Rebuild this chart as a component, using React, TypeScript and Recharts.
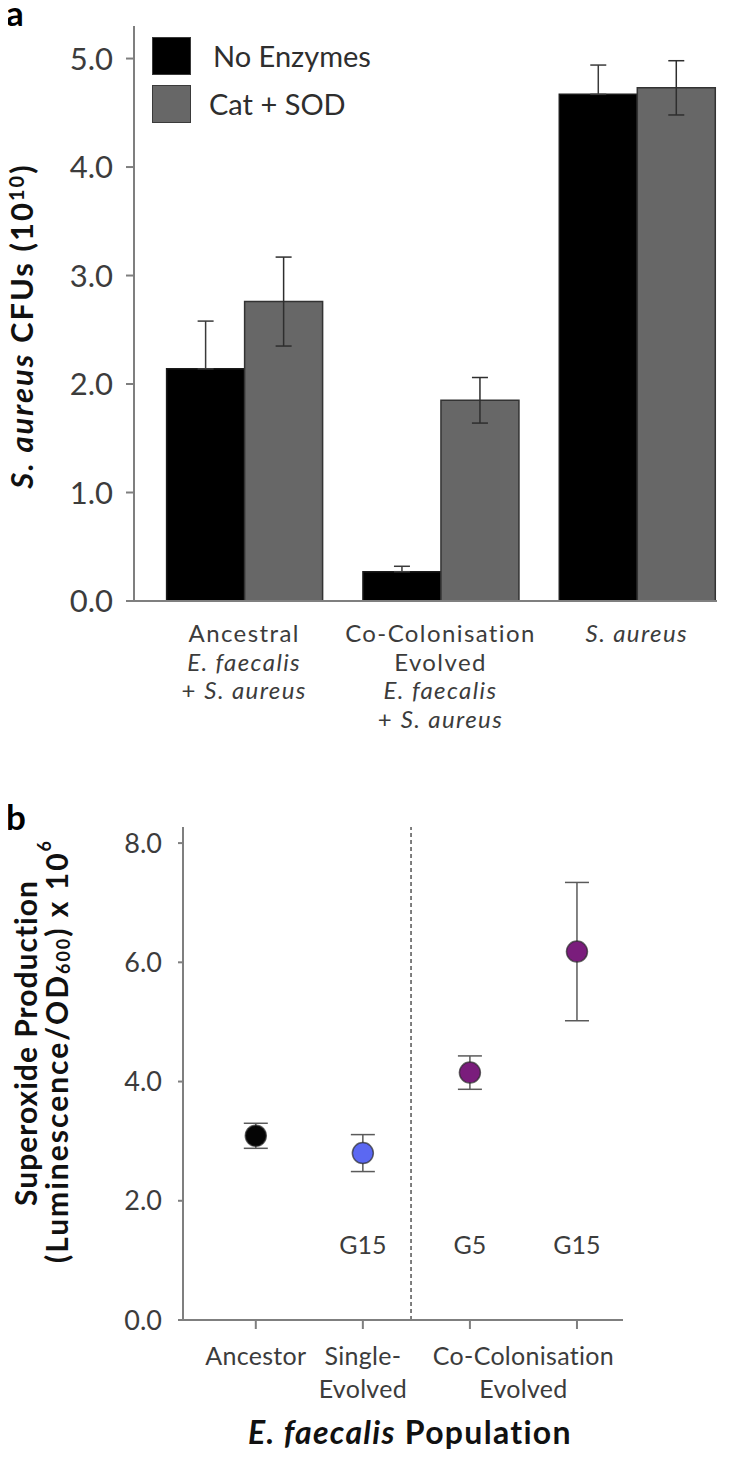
import {
	BarChart,
	Bar,
	XAxis,
	YAxis,
	ErrorBar,
	Legend,
	ScatterChart,
	Scatter,
	Cell,
	ReferenceLine,
} from 'recharts'

// panel a: S. aureus CFUs (x10^10)
const groups = [
	['Ancestral', 'E. faecalis', '+ S. aureus'],
	['Co-Colonisation', 'Evolved', 'E. faecalis', '+ S. aureus'],
	['S. aureus'],
]
const seriesNames = ['No Enzymes', 'Cat + SOD']
const noEnzymes = [2.14, 0.27, 4.67]
const noEnzymesErr = [0.44, 0.05, 0.27]
const catSod = [2.76, 1.85, 4.73]
const catSodErr = [0.41, 0.21, 0.25]
const cfuTicks = [0, 1, 2, 3, 4, 5]

// panel b: superoxide production (x10^6)
const populations = [['Ancestor'], ['Single-', 'Evolved'], [], []]
const generations = ['', 'G15', 'G5', 'G15']
const superoxide = [3.09, 2.8, 4.15, 6.18]
const superoxideErr = [0.21, 0.31, 0.28, 1.16]
const coColonisation = ['Co-Colonisation', 'Evolved']
const superoxideTicks = [0, 2, 4, 6, 8]

const pointColors = ['#050505', '#5b68f2', '#7a1d7c', '#7a1d7c']
const axisStroke = { stroke: '#7f7f7f', strokeWidth: 2 }
const tickText = '#3c3c3c'

const barData = groups.map((lines, i) => ({
	key: `g${i}`,
	none: noEnzymes[i],
	noneErr: [0, noEnzymesErr[i]],
	cat: catSod[i],
	catErr: catSodErr[i],
}))

const scatterData = superoxide.map((v, i) => ({
	x: i,
	y: v,
	err: superoxideErr[i],
}))

const SPECIES = /(E\. faecalis|S\. aureus)/

const renderLine = (text: string) =>
	text
		.split(SPECIES)
		.filter(Boolean)
		.map((part, k) => (
			<tspan key={k} fontStyle={SPECIES.test(part) ? 'italic' : 'normal'}>
				{part}
			</tspan>
		))

const GroupTick = (props: any) => {
	const { x, y, index } = props
	const lines = groups[index] || []
	return (
		<g>
			{lines.map((line, k) => (
				<text
					key={k}
					x={x}
					y={y + 41 + k * 28.5}
					textAnchor='middle'
					fontSize={24}
					letterSpacing={1.4}
					fill={tickText}>
					{renderLine(line)}
				</text>
			))}
		</g>
	)
}

const PopTick = (props: any) => {
	const { x, y, payload } = props
	const i = payload.value
	const lines = populations[i] || []
	return (
		<g>
			{lines.map((line, k) => (
				<text
					key={k}
					x={x}
					y={y + 36 + k * 33}
					textAnchor='middle'
					fontSize={25}
					letterSpacing={0.3}
					fill={tickText}>
					{line}
				</text>
			))}
			{generations[i] && (
				<text
					x={x}
					y={y - 75}
					textAnchor='middle'
					fontSize={25}
					fill={tickText}>
					{generations[i]}
				</text>
			)}
		</g>
	)
}

const CoColLabel = (props: any) => {
	const { viewBox } = props
	const bottom = viewBox.y + viewBox.height
	return (
		<g>
			{coColonisation.map((line, k) => (
				<text
					key={k}
					x={viewBox.x}
					y={bottom + 45 + k * 33}
					textAnchor='middle'
					fontSize={25}
					letterSpacing={0.3}
					fill={tickText}>
					{line}
				</text>
			))}
		</g>
	)
}

const CfuTitle = () => (
	<text
		transform='translate(33,326) rotate(-90)'
		textAnchor='middle'
		fontSize={31}
		fontWeight={700}
		letterSpacing={2}
		fill='#111'>
		<tspan fontStyle='italic'>S. aureus</tspan>
		<tspan> CFUs (10</tspan>
		<tspan dy={-9} fontSize={20}>
			10
		</tspan>
		<tspan dy={9}>)</tspan>
	</text>
)

const SuperoxideTitle = () => (
	<g fontWeight={700} fill='#111'>
		<text
			transform='translate(25,283) rotate(-90)'
			textAnchor='middle'
			dominantBaseline='central'
			fontSize={30}
			letterSpacing={1}>
			Superoxide Production
		</text>
		<text
			transform='translate(56,291) rotate(-90)'
			textAnchor='middle'
			dominantBaseline='central'
			fontSize={30}
			letterSpacing={2}>
			<tspan>(Luminescence/OD</tspan>
			<tspan dy={7} fontSize={18}>
				600
			</tspan>
			<tspan dy={-7}>) x 10</tspan>
			<tspan dy={-12} fontSize={18}>
				6
			</tspan>
		</text>
	</g>
)

const PopTitle = (props: any) => {
	const { viewBox } = props
	return (
		<text
			x={viewBox.x + viewBox.width / 2 + 7}
			y={viewBox.y + 124}
			textAnchor='middle'
			fontSize={32}
			fontWeight={700}
			letterSpacing={1.3}
			fill='#111'>
			<tspan fontStyle='italic'>E. faecalis</tspan>
			<tspan> Population</tspan>
		</text>
	)
}

const LegendBox = (props: any) => {
	const items = [...(props.payload || [])].sort(
		(p: any, q: any) => seriesNames.indexOf(p.value) - seriesNames.indexOf(q.value)
	)
	return (
		<div>
			{items.map((entry: any, i: number) => (
				<div
					key={i}
					style={{
						display: 'flex',
						alignItems: 'center',
						height: 47,
						marginBottom: 1,
					}}>
					<div
						style={{
							width: 37,
							height: 36,
							background: entry.color,
							border: '1.5px solid #3a3a3a',
						}}
					/>
					<span
						style={{
							marginLeft: i === 0 ? 22 : 18,
							fontSize: 29,
							color: '#2e2e2e',
						}}>
						{entry.value}
					</span>
				</div>
			))}
		</div>
	)
}

const Dot = (props: any) => {
	const { cx, cy, fill } = props
	return (
		<circle
			cx={cx}
			cy={cy}
			r={10.5}
			fill={fill}
			stroke='#2a2a2a'
			strokeOpacity={0.7}
			strokeWidth={1.5}
		/>
	)
}

const panelLetter = {
	position: 'absolute' as const,
	left: 6,
	fontSize: 35,
	fontWeight: 700,
	lineHeight: '24px',
	color: '#000',
}

export default function App() {
	return (
		<div
			style={{
				position: 'relative',
				width: 737,
				height: 1467,
				margin: -8,
				background: '#fff',
				fontFamily: 'Lato, "Open Sans", sans-serif',
			}}>
			<BarChart
				width={737}
				height={760}
				data={barData}
				margin={{ top: 26, right: 20, left: 0, bottom: 0 }}
				barCategoryGap='10.5%'
				barGap={0}>
				<XAxis
					dataKey='key'
					height={159}
					padding={{ left: 12, right: -18 }}
					tickLine={false}
					tickSize={0}
					tickMargin={0}
					interval={0}
					axisLine={axisStroke}
					tick={<GroupTick />}
				/>
				<YAxis
					type='number'
					domain={[0, 5.3]}
					ticks={cfuTicks}
					width={134}
					tickSize={8}
					tickMargin={13}
					axisLine={axisStroke}
					tickLine={axisStroke}
					tick={{ fill: tickText, fontSize: 31 }}
					tickFormatter={(v: number) => v.toFixed(1)}
					label={<CfuTitle />}
				/>
				<Legend
					layout='vertical'
					align='center'
					verticalAlign='middle'
					content={<LegendBox />}
					wrapperStyle={{ position: 'absolute', left: 152, top: 32, width: 300 }}
				/>
				<Bar
					dataKey='none'
					name={seriesNames[0]}
					fill='#000000'
					stroke='#1a1a1a'
					strokeWidth={1.5}
					isAnimationActive={false}>
					<ErrorBar dataKey='noneErr' width={8} stroke='#3a3a3a' strokeWidth={1.5} />
				</Bar>
				<Bar
					dataKey='cat'
					name={seriesNames[1]}
					fill='#676767'
					stroke='#333333'
					strokeWidth={1.5}
					isAnimationActive={false}>
					<ErrorBar dataKey='catErr' width={8} stroke='#2e2e2e' strokeWidth={1.5} />
				</Bar>
			</BarChart>

			<ScatterChart
				width={737}
				height={707}
				margin={{ top: 67, right: 114, left: 0, bottom: 0 }}>
				<XAxis
					type='number'
					dataKey='x'
					domain={[-0.68, 3.43]}
					ticks={[0, 1, 2, 3]}
					interval={0}
					height={147}
					tickSize={9}
					tickMargin={0}
					axisLine={axisStroke}
					tickLine={axisStroke}
					tick={<PopTick />}
					label={<PopTitle />}
				/>
				<YAxis
					type='number'
					dataKey='y'
					domain={[0, 8.27]}
					ticks={superoxideTicks}
					width={183}
					tickSize={5}
					tickMargin={16}
					axisLine={axisStroke}
					tickLine={axisStroke}
					tick={{ fill: tickText, fontSize: 27 }}
					tickFormatter={(v: number) => v.toFixed(1)}
					label={<SuperoxideTitle />}
				/>
				<ReferenceLine
					x={1.45}
					stroke='#555555'
					strokeWidth={1.5}
					strokeDasharray='4 3'
				/>
				<ReferenceLine x={2.5} stroke='none' label={<CoColLabel />} />
				<Scatter data={scatterData} shape={<Dot />} isAnimationActive={false}>
					{scatterData.map((d, i) => (
						<Cell key={`p-${i}`} fill={pointColors[i]} />
					))}
					<ErrorBar
						dataKey='err'
						direction='y'
						width={12}
						stroke='#5a5a5a'
						strokeWidth={1.5}
					/>
				</Scatter>
			</ScatterChart>

			<div style={{ ...panelLetter, top: 0 }}>a</div>
			<div style={{ ...panelLetter, top: 804 }}>b</div>
		</div>
	)
}
